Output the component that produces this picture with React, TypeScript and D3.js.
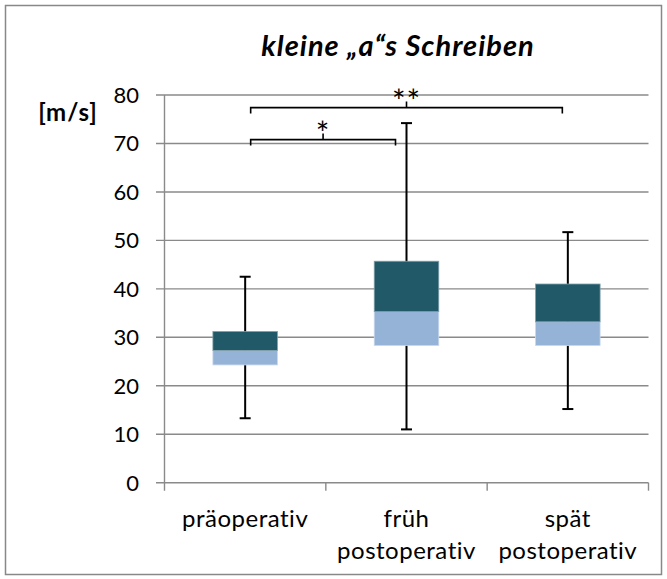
import React, { useEffect, useRef } from 'react';
import * as d3 from 'd3';

// box plot drawn as Excel-style stacked boxes with error bar whiskers
const categories = [['präoperativ'], ['früh', 'postoperativ'], ['spät', 'postoperativ']];
const minValues = [13.3, 11.0, 15.2];
const q1Values = [24.3, 28.3, 28.3];
const medianValues = [27.3, 35.3, 33.2];
const q3Values = [31.2, 45.7, 41.0];
const maxValues = [42.5, 74.2, 51.7];
const yTicks = [0, 10, 20, 30, 40, 50, 60, 70, 80];

// significance brackets between groups
const bracketFrom = [0, 0];
const bracketTo = [1, 2];
const bracketLevel = [70.8, 77.4];
const bracketLabel = ['*', '**'];

const App = () => {
  const ref = useRef<SVGSVGElement>(null);

  useEffect(() => {
    const width = 667;
    const height = 579;
    const font = 'Lato, "Open Sans", sans-serif';

    const svg = d3.select(ref.current);
    svg.selectAll('*').remove();
    svg.attr('width', width).attr('height', height)
      .style('font-variant-ligatures', 'none');

    svg.append('rect')
      .attr('x', 0).attr('y', 0).attr('width', width).attr('height', height)
      .attr('fill', '#fff');

    // outer chart border
    svg.append('rect')
      .attr('x', 5.5).attr('y', 5.5).attr('width', 656).attr('height', 569)
      .attr('fill', 'none').attr('stroke', '#888').attr('stroke-width', 1.5);

    const x = d3.scaleBand<number>()
      .domain(categories.map((_, i) => i))
      .range([164.5, 648.5])
      .paddingInner(0.6)
      .paddingOuter(0.3);
    const band = 484 / 3;
    const y = d3.scaleLinear().domain([0, 80]).range([482.7, 95]);

    // title
    svg.append('text')
      .attr('x', 398).attr('y', 56)
      .attr('text-anchor', 'middle')
      .style('font-family', font)
      .style('font-size', '29px')
      .style('letter-spacing', '1px')
      .style('font-weight', 'bold')
      .style('font-style', 'italic')
      .text('kleine \u201Ea\u201Cs Schreiben');

    // gridlines
    svg.append('g').selectAll('line')
      .data(yTicks)
      .enter().append('line')
      .attr('x1', 156).attr('x2', 648.5)
      .attr('y1', d => y(d)).attr('y2', d => y(d))
      .attr('stroke', '#8a8a8a').attr('stroke-width', 1.4);

    // y axis line
    svg.append('line')
      .attr('x1', 164.5).attr('x2', 164.5)
      .attr('y1', y(80)).attr('y2', y(0) + 8)
      .attr('stroke', '#8a8a8a').attr('stroke-width', 1.4);

    // x category ticks
    svg.append('g').selectAll('line')
      .data([1, 2, 3])
      .enter().append('line')
      .attr('x1', d => 164.5 + d * band).attr('x2', d => 164.5 + d * band)
      .attr('y1', y(0)).attr('y2', y(0) + 8)
      .attr('stroke', '#8a8a8a').attr('stroke-width', 1.4);

    // y tick labels
    svg.append('g').selectAll('text')
      .data(yTicks)
      .enter().append('text')
      .attr('x', 139)
      .attr('y', d => y(d) + 8)
      .attr('text-anchor', 'end')
      .style('font-family', font)
      .style('font-size', '22px')
      .text(d => d);

    svg.append('text')
      .attr('x', 68).attr('y', 121)
      .attr('text-anchor', 'middle')
      .style('font-family', font)
      .style('font-size', '24px')
      .style('letter-spacing', '1px')
      .style('font-weight', 'bold')
      .text('[m/s]');

    const cx = (i: number) => (x(i) as number) + x.bandwidth() / 2;
    const capHalf = 5.5;

    // whiskers behind the boxes
    const whiskers = svg.append('g').attr('stroke', '#000').attr('stroke-width', 2);
    categories.forEach((_, i) => {
      whiskers.append('line')
        .attr('x1', cx(i)).attr('x2', cx(i))
        .attr('y1', y(maxValues[i])).attr('y2', y(minValues[i]));
      [maxValues[i], minValues[i]].forEach(v => {
        whiskers.append('line')
          .attr('x1', cx(i) - capHalf).attr('x2', cx(i) + capHalf)
          .attr('y1', y(v)).attr('y2', y(v));
      });
    });

    // lower box part (q1 to median) and upper part (median to q3)
    const boxes = svg.append('g');
    categories.forEach((_, i) => {
      boxes.append('rect')
        .attr('x', x(i) as number).attr('width', x.bandwidth())
        .attr('y', y(medianValues[i]))
        .attr('height', y(q1Values[i]) - y(medianValues[i]))
        .attr('fill', '#95b3d7')
        .attr('stroke', '#c9d8ec').attr('stroke-width', 0.8);
      boxes.append('rect')
        .attr('x', x(i) as number).attr('width', x.bandwidth())
        .attr('y', y(q3Values[i]))
        .attr('height', y(medianValues[i]) - y(q3Values[i]))
        .attr('fill', '#215968')
        .attr('stroke', '#7f9faa').attr('stroke-width', 0.8);
    });

    // category labels
    const labels = svg.append('g')
      .style('font-family', font)
      .style('font-size', '24px')
      .style('letter-spacing', '0.5px')
      .attr('text-anchor', 'middle');
    categories.forEach((lines, i) => {
      lines.forEach((line, j) => {
        labels.append('text')
          .attr('x', cx(i))
          .attr('y', 527 + j * 32)
          .text(line);
      });
    });

    // significance brackets
    const brackets = svg.append('g');
    bracketFrom.forEach((from, k) => {
      const to = bracketTo[k];
      const ly = y(bracketLevel[k]);
      const x1 = cx(from) + capHalf;
      // keep clear of a whisker that reaches past the bracket
      const x2 = cx(to) - (maxValues[to] > bracketLevel[k] ? 2 * capHalf : capHalf);
      const mid = (x1 + x2) / 2;
      brackets.append('path')
        .attr('d', `M${x1},${ly + 6}V${ly}H${x2}V${ly + 6}M${mid},${ly}V${ly - 6}`)
        .attr('fill', 'none').attr('stroke', '#000').attr('stroke-width', 1.6);
      brackets.append('text')
        .attr('x', mid).attr('y', ly + 5)
        .attr('text-anchor', 'middle')
        .style('font-family', font)
        .style('font-size', '32px')
        .style('letter-spacing', '1px')
        .text(bracketLabel[k]);
    });
  }, []);

  return (
    <svg ref={ref} style={{ position: 'absolute', left: 0, top: 0 }}></svg>
  );
};

export default App;
